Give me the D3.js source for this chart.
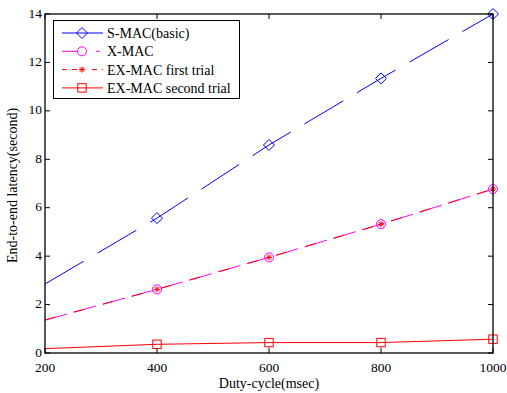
<!DOCTYPE html>
<html>
<head>
<meta charset="utf-8">
<script src="https://cdn.jsdelivr.net/npm/d3@7"></script>
<style>
  html, body { margin: 0; padding: 0; background: #fff; }
  svg { display: block; font-family: "Liberation Serif", "Times New Roman", serif; }
</style>
</head>
<body>
<svg id="chart" width="507" height="393"></svg>
<script>
// Duty-cycle (msec) on the x axis
const dutyCycle = [200, 400, 600, 800, 1000];
// End-to-end latency (second) per protocol
const smacBasic = [2.85, 5.57, 8.59, 11.34, 14.0];
const xmac = [1.36, 2.63, 3.95, 5.32, 6.77];
const exmacFirst = [1.36, 2.63, 3.95, 5.32, 6.77];
const exmacSecond = [0.18, 0.36, 0.43, 0.43, 0.57];
// Axis ticks
const xTicks = [200, 400, 600, 800, 1000];
const yTicks = [0, 2, 4, 6, 8, 10, 12, 14];
const seriesNames = ["S-MAC(basic)", "X-MAC", "EX-MAC first trial", "EX-MAC second trial"];

const svg = d3.select("#chart");
const plotLeft = 45, plotRight = 493, plotTop = 14, plotBottom = 353;

const x = d3.scaleLinear().domain([200, 1000]).range([plotLeft, plotRight]);
const y = d3.scaleLinear().domain([0, 14]).range([plotBottom, plotTop]);

const series = [
  { name: seriesNames[0], values: smacBasic, color: "#0000ff", dash: "45,16", marker: "diamond", legendDash: null },
  { name: seriesNames[1], values: xmac, color: "#ff00ff", dash: "23,7", marker: "circle", legendDash: "15,19,4,10" },
  { name: seriesNames[2], values: exmacFirst, color: "#ff0000", dash: "11,19", marker: "star", legendDash: "5,5" },
  { name: seriesNames[3], values: exmacSecond, color: "#ff0000", dash: null, marker: "square", legendDash: null }
];

function drawMarker(g, type, cx, cy, color) {
  if (type === "diamond") {
    const r = 5.5;
    g.append("path").attr("d", `M${cx},${cy - r}L${cx + r},${cy}L${cx},${cy + r}L${cx - r},${cy}Z`)
      .attr("fill", "none").attr("stroke", color).attr("stroke-width", 1);
  } else if (type === "circle") {
    g.append("circle").attr("cx", cx).attr("cy", cy).attr("r", 4.5)
      .attr("fill", "none").attr("stroke", color).attr("stroke-width", 1);
  } else if (type === "star") {
    const r = 3;
    const d = `M${cx - r},${cy}L${cx + r},${cy}M${cx},${cy - r}L${cx},${cy + r}` +
      `M${cx - r * 0.75},${cy - r * 0.75}L${cx + r * 0.75},${cy + r * 0.75}` +
      `M${cx - r * 0.75},${cy + r * 0.75}L${cx + r * 0.75},${cy - r * 0.75}`;
    g.append("path").attr("d", d).attr("stroke", color).attr("stroke-width", 1).attr("fill", "none");
  } else if (type === "square") {
    const s = 4.2;
    g.append("rect").attr("x", cx - s).attr("y", cy - s).attr("width", 2 * s).attr("height", 2 * s)
      .attr("fill", "none").attr("stroke", color).attr("stroke-width", 1);
  }
}

const line = d3.line().x((d, i) => x(dutyCycle[i])).y(d => y(d));

// Data lines (X-MAC drawn under the EX-MAC first trial dashes)
const plot = svg.append("g");
series.forEach(s => {
  const p = plot.append("path").attr("d", line(s.values))
    .attr("fill", "none").attr("stroke", s.color).attr("stroke-width", 1);
  if (s.dash) p.attr("stroke-dasharray", s.dash);
});

// Markers (first sample has no marker)
series.forEach(s => {
  s.values.forEach((v, i) => {
    if (i === 0) return;
    drawMarker(plot, s.marker, x(dutyCycle[i]), y(v), s.color);
  });
});

// Frame with inward ticks on all four sides
const axes = svg.append("g").attr("stroke", "#000").attr("stroke-width", 1);
axes.append("rect").attr("x", plotLeft).attr("y", plotTop)
  .attr("width", plotRight - plotLeft).attr("height", plotBottom - plotTop)
  .attr("fill", "none").attr("stroke-width", 1.3);

const tickLen = 5;
xTicks.forEach(t => {
  axes.append("line").attr("x1", x(t)).attr("x2", x(t)).attr("y1", plotBottom).attr("y2", plotBottom - tickLen);
  axes.append("line").attr("x1", x(t)).attr("x2", x(t)).attr("y1", plotTop).attr("y2", plotTop + tickLen);
});
yTicks.forEach(t => {
  axes.append("line").attr("x1", plotLeft).attr("x2", plotLeft + tickLen).attr("y1", y(t)).attr("y2", y(t));
  axes.append("line").attr("x1", plotRight).attr("x2", plotRight - tickLen).attr("y1", y(t)).attr("y2", y(t));
});

// Tick labels
svg.append("g").selectAll("text").data(xTicks).join("text")
  .attr("x", d => x(d)).attr("y", 371.5).attr("text-anchor", "middle")
  .attr("font-size", 13.5).attr("fill", "#000").text(d => d);
svg.append("g").selectAll("text").data(yTicks).join("text")
  .attr("x", 42).attr("y", d => y(d) + 3.5).attr("text-anchor", "end")
  .attr("font-size", 13.5).attr("fill", "#000").text(d => d);

// Axis titles
svg.append("text").attr("x", (plotLeft + plotRight) / 2).attr("y", 387.5).attr("text-anchor", "middle")
  .attr("font-size", 14).attr("fill", "#000").text("Duty-cycle(msec)");
svg.append("text").attr("transform", `translate(17,${(plotTop + plotBottom) / 2 + 2}) rotate(-90)`)
  .attr("text-anchor", "middle").attr("font-size", 14).attr("fill", "#000")
  .text("End-to-end latency(second)");

// Legend
const lg = svg.append("g");
lg.append("rect").attr("x", 53.5).attr("y", 20.5).attr("width", 186).attr("height", 78)
  .attr("fill", "#fff").attr("stroke", "#000").attr("stroke-width", 1);
series.forEach((s, i) => {
  const ly = 33 + i * 18.3;
  const ln = lg.append("line").attr("x1", 62).attr("x2", 103).attr("y1", ly).attr("y2", ly)
    .attr("stroke", s.color).attr("stroke-width", 1);
  if (s.legendDash) ln.attr("stroke-dasharray", s.legendDash);
  if (s.marker === "star") {
    lg.append("rect").attr("x", 77).attr("y", ly - 4).attr("width", 10).attr("height", 8).attr("fill", "#fff");
  }
  drawMarker(lg, s.marker, 82, ly, s.color);
  lg.append("text").attr("x", 107).attr("y", ly + 5).attr("font-size", 14).attr("fill", "#000").text(s.name);
});
</script>
</body>
</html>
